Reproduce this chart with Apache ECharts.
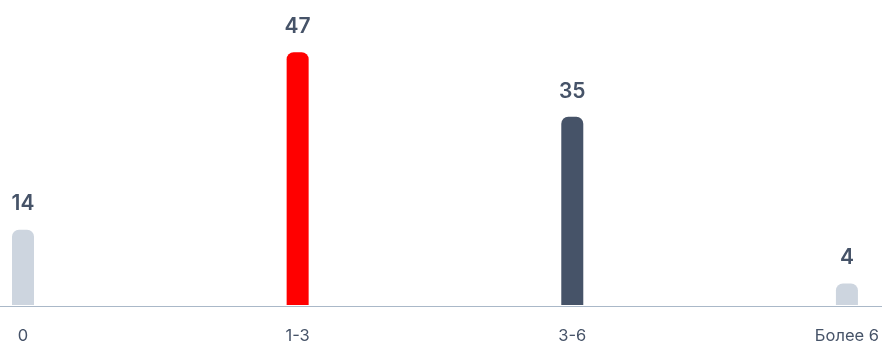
<!DOCTYPE html>
<html>
<head>
<meta charset="utf-8">
<script src="https://cdn.jsdelivr.net/npm/echarts@6/dist/echarts.min.js"></script>
<style>
  html, body { margin: 0; padding: 0; background: #fff; }
  #chart { width: 882px; height: 345px; }
</style>
</head>
<body>
<div id="chart"></div>
<script>
const categories = ['0', '1-3', '3-6', 'Более 6'];
const values = [14, 47, 35, 4];
const barColors = ['#CDD5DF', '#FF0000', '#465368', '#CDD5DF'];

const chart = echarts.init(document.getElementById('chart'), null, { renderer: 'canvas' });

chart.setOption({
  animation: false,
  grid: [
    // bars: first and last categories sit near the chart edges
    { left: 23, right: 35, top: 36, bottom: 39, containLabel: false },
    // full-width baseline
    { left: 0, right: 0, top: 36, bottom: 39, containLabel: false }
  ],
  xAxis: [{
    type: 'category',
    gridIndex: 0,
    data: categories,
    boundaryGap: false,
    axisLine: { show: false },
    axisTick: { show: false },
    axisLabel: {
      color: '#465368',
      fontFamily: 'Inter, sans-serif',
      fontSize: 16.5,
      margin: 23,
      interval: 0
    }
  }, {
    type: 'category',
    gridIndex: 1,
    data: categories,
    axisLine: { show: true, lineStyle: { color: '#AAB8C8', width: 1 } },
    axisTick: { show: false },
    axisLabel: { show: false }
  }],
  yAxis: [{
    type: 'value',
    gridIndex: 0,
    min: 0,
    max: 50,
    show: false,
    splitLine: { show: false }
  }, {
    type: 'value',
    gridIndex: 1,
    min: 0,
    max: 50,
    show: false,
    splitLine: { show: false }
  }],
  series: [{
    type: 'bar',
    xAxisIndex: 0,
    yAxisIndex: 0,
    barWidth: 22,
    z: 3,
    data: values.map((v, i) => ({
      value: v,
      itemStyle: { color: barColors[i], borderRadius: [7, 7, 0, 0] }
    })),
    label: {
      show: true,
      position: 'top',
      distance: 15,
      color: '#465368',
      fontFamily: 'Inter, sans-serif',
      fontSize: 21,
      fontWeight: 600
    }
  }]
});
</script>
</body>
</html>
